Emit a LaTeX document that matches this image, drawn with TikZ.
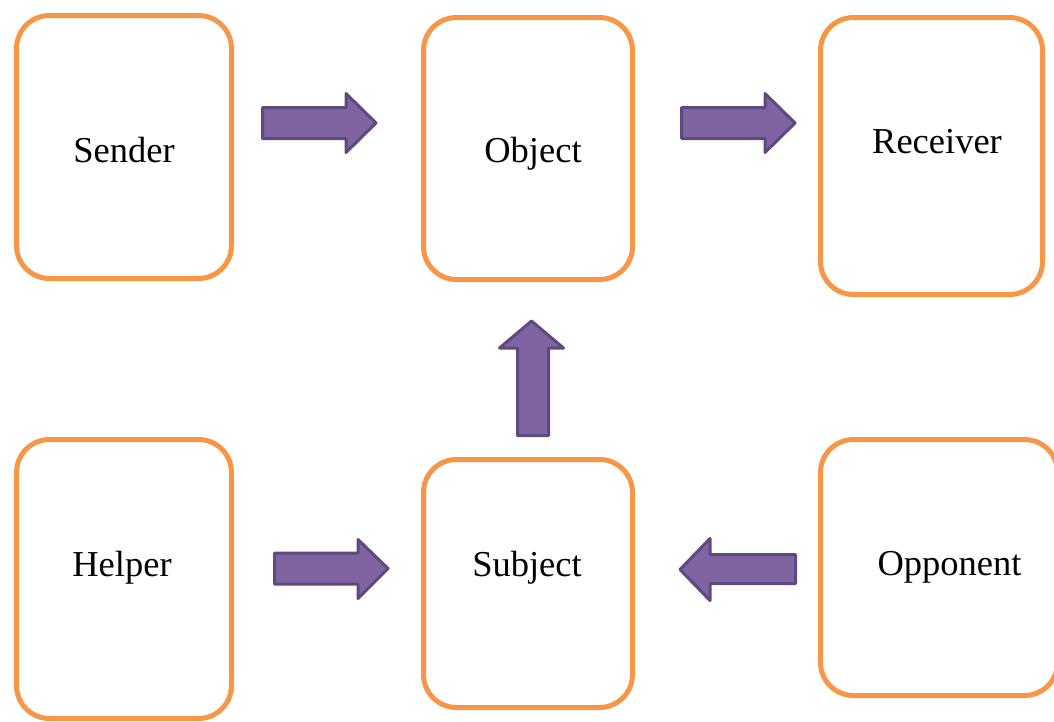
\documentclass[tikz,border=0pt]{standalone}
\usepackage{fontspec}
\setmainfont{Liberation Serif}
\definecolor{boxorange}{HTML}{F79646}
\definecolor{arrfill}{HTML}{8064A2}
\definecolor{arrdraw}{RGB}{94,74,128}
\tikzset{
  card/.style={draw=boxorange, line width=5pt, rounded corners=33pt, fill=white, inner sep=0pt},
  lbl/.style={anchor=base, inner sep=0pt, font=\fontsize{36.5}{40}\selectfont},
  barrow/.style={fill=arrfill, draw=arrdraw, line width=3pt, line join=round},
}
\begin{document}
\begin{tikzpicture}[x=1pt,y=-1pt]
\useasboundingbox (0,0) rectangle (1054,721);
\clip (0,0) rectangle (1054,721);
% boxes (centre-line geometry)
\node[card, minimum width=215pt, minimum height=263pt] (sender) at (124,147) {};
\node[card, minimum width=209pt, minimum height=262pt] (object) at (528,148.5) {};
\node[card, minimum width=222pt, minimum height=277pt] (receiver) at (931.5,156) {};
\node[card, minimum width=215pt, minimum height=279pt] (helper) at (124,579) {};
\node[card, minimum width=209pt, minimum height=248pt] (subject) at (528,583.5) {};
\node[card, minimum width=237pt, minimum height=256pt] (opponent) at (939,567.5) {};
% labels
\node[lbl] (tsender) at (124,162) {Sender};
\node[lbl] (tobject) at (533,162) {Object};
\node[lbl] (treceiver) at (937,153) {Receiver};
\node[lbl] (thelper) at (122,576) {Helper};
\node[lbl] (tsubject) at (527,576) {Subject};
\node[lbl] (topponent) at (949.5,575) {Opponent};
% block arrows
\draw[barrow] (262.5,107.5) -- (346,107.5) -- (346,93.5) -- (376,123) -- (346,152.5) -- (346,138.5) -- (262.5,138.5) -- cycle;
\draw[barrow] (681.5,107.5) -- (765,107.5) -- (765,93.5) -- (795,123) -- (765,152.5) -- (765,138.5) -- (681.5,138.5) -- cycle;
\draw[barrow] (517.5,435.5) -- (517.5,348) -- (499.5,348) -- (531.5,321) -- (563.5,348) -- (548.5,348) -- (548.5,435.5) -- cycle;
\draw[barrow] (274.5,553) -- (358,553) -- (358,539.5) -- (388,568.5) -- (358,598.5) -- (358,584) -- (274.5,584) -- cycle;
\draw[barrow] (795.5,554.5) -- (710,554.5) -- (710,538.5) -- (680,569.5) -- (710,600.5) -- (710,583.5) -- (795.5,583.5) -- cycle;
\end{tikzpicture}
\end{document}
